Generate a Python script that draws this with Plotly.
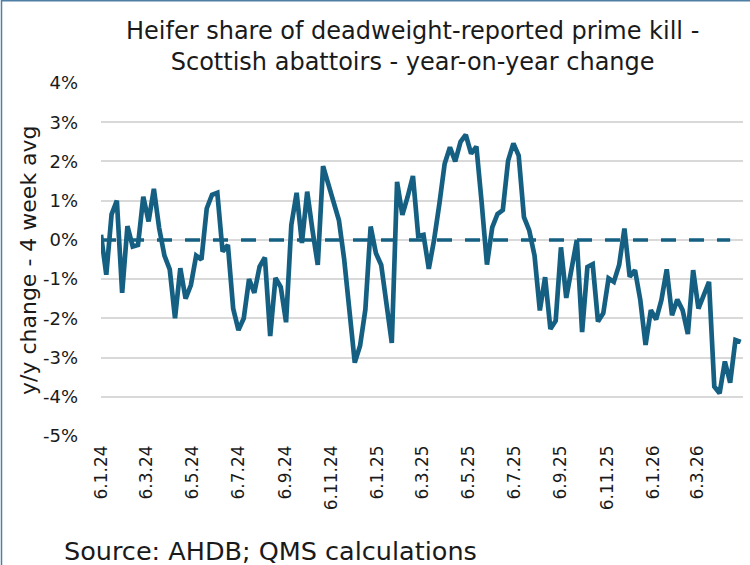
import pandas as pd
import plotly.graph_objects as go

# ---- data ----
start_date = "2024-01-06"
yoy_change = [
    0.13, -0.89, 0.65, 1.0, -1.35, 0.35, -0.17, -0.13, 1.1, 0.47,
    1.3, 0.3, -0.4, -0.75, -2.0, -0.72, -1.5, -1.15, -0.4, -0.5,
    0.8, 1.15, 1.2, -0.3, -0.13, -1.75, -2.3, -2.0, -1.0, -1.35,
    -0.68, -0.45, -2.45, -0.97, -1.2, -2.1, 0.38, 1.2, -0.08, 1.23,
    0.25, -0.64, 1.88, 1.44, 0.93, 0.5, -0.5, -1.86, -3.13, -2.7,
    -1.78, 0.34, -0.34, -0.64, -1.6, -2.63, 1.48, 0.64, 1.1, 1.63,
    0.1, 0.13, -0.74, 0.0, 0.92, 1.94, 2.36, 2.0, 2.5, 2.68,
    2.2, 2.38, 0.95, -0.63, 0.32, 0.66, 0.76, 2.02, 2.46, 2.15,
    0.58, 0.24, -0.4, -1.8, -0.95, -2.27, -2.06, -0.19, -1.48, -0.74,
    0.0, -2.35, -0.69, -0.62, -2.08, -1.87, -0.98, -1.07, -0.64, 0.29,
    -0.94, -0.77, -1.53, -2.68, -1.79, -2.03, -1.53, -0.75, -1.92, -1.52,
    -1.79, -2.4, -0.77, -1.75, -1.41, -1.07, -3.74, -3.91, -3.1, -3.64,
    -2.55, -2.6,
]
zero_line_points = 120
x_tick_dates = ["2024-01-06", "2024-03-06", "2024-05-06", "2024-07-06", "2024-09-06",
                "2024-11-06", "2025-01-06", "2025-03-06", "2025-05-06", "2025-07-06",
                "2025-09-06", "2025-11-06", "2026-01-06", "2026-03-06"]
x_tick_labels = ["6.1.24", "6.3.24", "6.5.24", "6.7.24", "6.9.24", "6.11.24", "6.1.25",
                 "6.3.25", "6.5.25", "6.7.25", "6.9.25", "6.11.25", "6.1.26", "6.3.26"]
y_tick_vals = [4, 3, 2, 1, 0, -1, -2, -3, -4, -5]
y_tick_labels = ["4%", "3%", "2%", "1%", "0%", "-1%", "-2%", "-3%", "-4%", "-5%"]
title_text = "Heifer share of deadweight-reported prime kill -<br>Scottish abattoirs - year-on-year change"
y_title = "y/y change - 4 week avg"
source_text = "Source: AHDB; QMS calculations"

dates = pd.date_range(start_date, periods=len(yoy_change), freq="7D")

# ---- layout geometry (pixels) ----
W, H = 750, 565
L, R, T, B = 101, 743, 83, 436
pw, ph = R - L, B - T

def px(x):
    return (x - L) / pw

def py(y):
    return (B - y) / ph

COL = "#156082"
FONT = "DejaVu Sans"
TXT = "#1a1a1a"

fig = go.Figure()
fig.add_trace(go.Scatter(
    x=dates[:zero_line_points], y=[0] * zero_line_points, mode="lines",
    line=dict(color=COL, width=3.5, dash="15px,13px"), hoverinfo="skip", showlegend=False))
fig.add_trace(go.Scatter(
    x=dates, y=yoy_change, mode="lines",
    line=dict(color=COL, width=4.7), showlegend=False))

fig.update_layout(
    width=W, height=H,
    margin=dict(l=L, r=W - R, t=T, b=H - B, autoexpand=False),
    paper_bgcolor="white", plot_bgcolor="white",
    font=dict(family=FONT, color=TXT),
    xaxis=dict(
        type="date", range=["2024-01-06", "2026-05-05"],
        tickmode="array", tickvals=x_tick_dates, ticktext=x_tick_labels,
        tickangle=-90, tickfont=dict(size=17, family=FONT, color=TXT),
        showgrid=False, zeroline=False, showline=False, ticks="",
        ticklabelstandoff=5,
    ),
    yaxis=dict(
        range=[-5, 4], tickmode="array", tickvals=y_tick_vals, ticktext=y_tick_labels,
        tickfont=dict(size=18, family=FONT, color=TXT),
        showgrid=True, gridcolor="#d9d9d9", gridwidth=1.5,
        zeroline=False, showline=False, ticks="", ticklabelstandoff=22,
    ),
    shapes=[
        dict(type="line", xref="paper", yref="paper", x0=px(1.5), x1=px(1.5), y0=py(0), y1=py(H + 10),
             line=dict(color="#4f7fa3", width=1.5)),
        dict(type="line", xref="paper", yref="paper", x0=px(1.5), x1=px(W + 10), y0=py(0.8), y1=py(0.8),
             line=dict(color="#4f7fa3", width=1.5)),
    ],
    annotations=[
        dict(text=title_text, xref="paper", yref="paper", x=px(412), y=py(46),
             xanchor="center", yanchor="middle", showarrow=False,
             font=dict(size=24, family=FONT, color=TXT)),
        dict(text=y_title, xref="paper", yref="paper", x=px(28), y=py(260),
             xanchor="center", yanchor="middle", textangle=-90, showarrow=False,
             font=dict(size=22, family=FONT, color=TXT)),
        dict(text=source_text, xref="paper", yref="paper", x=px(62), y=py(551),
             xanchor="left", yanchor="middle", showarrow=False,
             font=dict(size=25.5, family=FONT, color=TXT)),
    ],
)

fig.write_html("out.html", config={"displayModeBar": False},
               post_script="document.body.style.margin='0';")
